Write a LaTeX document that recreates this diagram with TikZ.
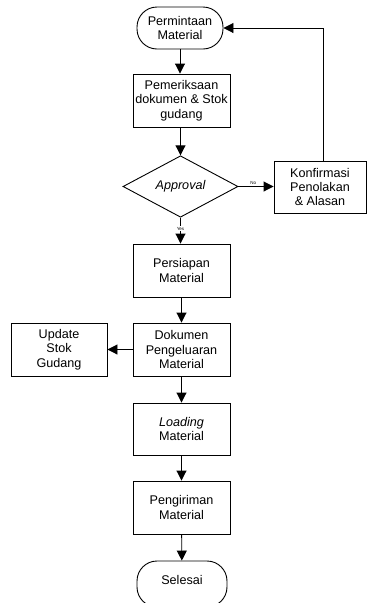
\documentclass[tikz,border=0pt]{standalone}
\usepackage{fontspec}
\setmainfont{Liberation Sans}
\usetikzlibrary{shapes.geometric,arrows.meta}
\begin{document}
\begin{tikzpicture}[x=1pt,y=-1pt,
  every node/.style={font=\fontsize{12.6}{14.3}\selectfont, align=center, inner sep=0pt},
  box/.style={draw, line width=0.9pt, minimum width=97pt, minimum height=53pt},
  term/.style={draw, line width=0.9pt, rounded corners=20pt, minimum width=86pt, minimum height=42pt},
  dec/.style={draw, line width=0.9pt, diamond, minimum width=115pt, minimum height=61pt},
  arr/.style={line width=0.9pt, -{Triangle[length=10pt,width=10pt]}},
  lbl/.style={font=\fontsize{4.5}{5}\selectfont}]
\useasboundingbox (0,0) rectangle (369,603);
\clip (0,0) rectangle (369,603);
\node[term] (start) at (180,28) {Permintaan\\Material};
\node[box] (check) at (181.5,100.5) {Pemeriksaan\\dokumen \& Stok\\gudang};
\node[dec] (appr) at (180.5,186.5) {\itshape Approval};
\node[box, minimum width=92pt, minimum height=52pt] (konf) at (320,187) {Konfirmasi\\Penolakan\\\& Alasan};
\node[box] (prep) at (181.5,270.5) {Persiapan\\Material};
\node[box] (dok) at (181.5,349.5) {Dokumen\\Pengeluaran\\Material};
\node[box, minimum width=96pt] (upd) at (59,349.5) {Update\\Stok\\Gudang};
\node[box, minimum height=52pt] (load) at (181.5,429) {\itshape Loading\\Material};
\node[box] (kirim) at (181.5,507.5) {Pengiriman\\Material};
\node[term, minimum width=90pt, minimum height=46pt] (end) at (182,584) {};
\node at (182,580) {Selesai};
\coordinate (fb) at (323,28);
\draw[arr] (start) -- (check.north -| start);
\draw[arr] (check.south -| appr.north) -- (appr.north);
\draw[arr] (appr.east) -- (konf.west |- appr.east) node[lbl, pos=0.42, above=1.5pt] {No};
\draw[arr] (konf.north -| fb) -- (fb) -- (start.east);
\draw[arr] (appr.south) -- (prep.north -| appr.south) node[lbl, pos=0.42, fill=white, inner sep=0.5pt] {Yes};
\draw[arr] (prep) -- (dok);
\draw[arr] (dok) -- (upd);
\draw[arr] (dok) -- (load);
\draw[arr] (load) -- (kirim);
\draw[arr] (kirim) -- (end);
\end{tikzpicture}
\end{document}
